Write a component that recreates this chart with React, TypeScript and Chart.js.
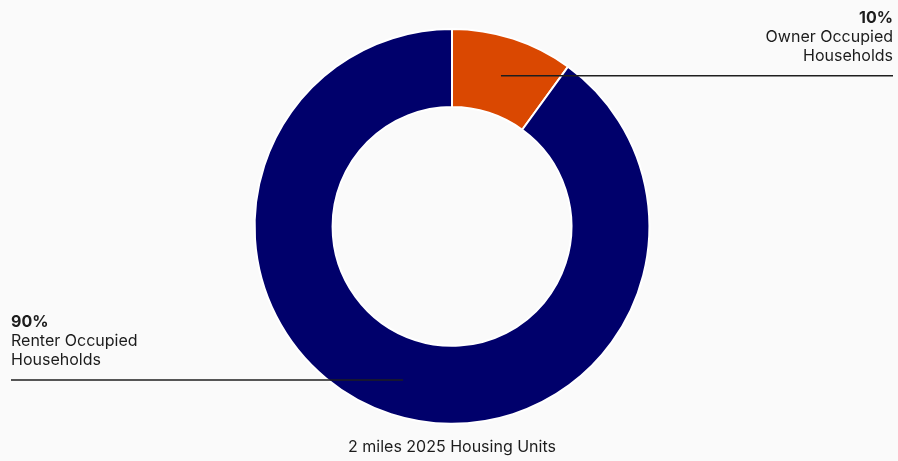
import React, { useEffect, useRef } from "react";
import { Chart, registerables } from "chart.js";

Chart.register(...registerables);

const categories = ["Owner Occupied Households", "Renter Occupied Households"];
const values = [10, 90];
const percentLabels = ["10%", "90%"];
const labelLines = [["Owner Occupied", "Households"], ["Renter Occupied", "Households"]];
const colors = ["#da4801", "#00006b"];
const titleText = "2 miles 2025 Housing Units";

const FONT = "Inter, 'Noto Sans', sans-serif";

const calloutPlugin = {
  id: "callouts",
  afterDatasetsDraw(chart: any) {
    const ctx = chart.ctx;
    const meta = chart.getDatasetMeta(0);
    const W = chart.width;
    meta.data.forEach((arc: any, i: number) => {
      const p = arc.getProps(["x", "y", "startAngle", "endAngle", "innerRadius", "outerRadius"], true);
      const mid = (p.startAngle + p.endAngle) / 2;
      const r = (p.innerRadius + p.outerRadius) / 2;
      const ax = p.x + Math.cos(mid) * r;
      const ay = p.y + Math.sin(mid) * r + (Math.sin(mid) > 0 ? 3 : 0);
      const right = Math.cos(mid) >= 0;
      const edgeX = right ? W - 5 : 11;
      ctx.save();
      ctx.strokeStyle = "#1e1e1e";
      ctx.lineWidth = 1.5;
      ctx.beginPath();
      ctx.moveTo(ax, ay);
      ctx.lineTo(edgeX, ay);
      ctx.stroke();
      ctx.fillStyle = "#1c1c1c";
      ctx.textAlign = right ? "right" : "left";
      ctx.textBaseline = "middle";
      const lines = labelLines[i];
      const lh = 19;
      const baseY = ay - 20 - lines.length * lh;
      ctx.font = `bold 16px ${FONT}`;
      ctx.fillText(percentLabels[i], edgeX, baseY);
      ctx.font = `16px ${FONT}`;
      lines.forEach((t, k) => ctx.fillText(t, edgeX, baseY + (k + 1) * lh));
      ctx.restore();
    });
  },
};

export default function App() {
  const ref = useRef<HTMLCanvasElement>(null);
  useEffect(() => {
    document.body.style.margin = "0";
    const chart = new Chart(ref.current!, {
      type: "doughnut",
      data: {
        labels: categories,
        datasets: [
          {
            data: values,
            backgroundColor: colors,
            borderColor: "#ffffff",
            borderWidth: 2,
          },
        ],
      },
      options: {
        animation: false,
        responsive: false,
        cutout: "60.5%",
        layout: { padding: { top: 28, bottom: 4, left: 6, right: 0 } },
        plugins: {
          legend: { display: false },
          tooltip: { enabled: false },
          title: {
            display: true,
            text: titleText,
            position: "bottom",
            color: "#1c1c1c",
            font: { family: FONT, size: 16, weight: "normal", lineHeight: 1.2 },
            padding: { top: 13, bottom: 0 },
          },
        },
      },
      plugins: [calloutPlugin],
    });
    return () => chart.destroy();
  }, []);
  return (
    <div style={{ position: "absolute", left: 0, top: 0, width: 898, height: 461, background: "#fafafa" }}>
      <canvas ref={ref} width={898} height={461} style={{ width: 898, height: 461 }} />
    </div>
  );
}
